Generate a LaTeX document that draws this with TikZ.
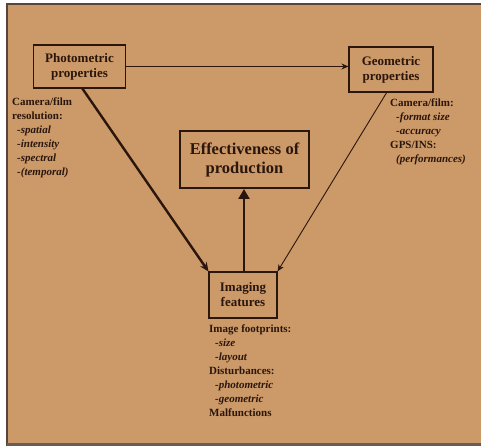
\documentclass[tikz,border=0pt]{standalone}
\usepackage{fontspec}
\setmainfont{Liberation Serif}
\usetikzlibrary{arrows.meta}
\definecolor{bgtan}{RGB}{204,153,104}
\definecolor{ink}{RGB}{42,22,12}
\tikzset{
  box/.style={draw=ink, line width=1.1pt, align=center, font=\bfseries\fontsize{13}{15}\selectfont, text=ink, inner sep=0pt},
  bigbox/.style={draw=ink, line width=2pt, align=center, font=\bfseries\fontsize{16.5}{19}\selectfont, text=ink, inner sep=0pt},
  note/.style={align=left, anchor=north west, font=\bfseries\fontsize{11}{14}\selectfont, text=ink, inner sep=0pt},
  thin/.style={draw=ink, line width=0.9pt, -{Stealth[length=7pt,width=6pt]}},
  thick/.style={draw=ink, line width=2.4pt, -{Stealth[length=9pt,width=8pt]}}
}
\begin{document}
\begin{tikzpicture}[x=1pt,y=-1pt]
\useasboundingbox (0,0) rectangle (481,446);
\fill[white] (0,0) rectangle (481,446);
\fill[bgtan] (7,4) rectangle (481,443);
\draw[ink!80, line width=1.2pt] (7,446) -- (7,4) -- (481,4);
\fill[ink!70] (7,443) rectangle (481,446);

\node[box, minimum width=92pt, minimum height=43pt] (photo) at (79.5,66.5) {Photometric\\properties};
\node[box, minimum width=84pt, minimum height=45pt] (geo) at (391,69.5) {Geometric\\properties};
\node[bigbox, minimum width=129pt, minimum height=57pt] (eff) at (244.5,159.5) {Effectiveness of\\production};
\node[box, minimum width=68pt, minimum height=46pt] (img) at (243,295) {Imaging\\features};

\coordinate (pb) at (82,88);
\coordinate (gb) at (387,92);
\coordinate (it) at (244,272);

\draw[thin] (photo.east) -- (photo.east -| geo.west);
\draw[thick] (pb) -- (img.north west);
\draw[thin] (gb) -- (img.north east);
\draw[thick, -{Triangle[length=10pt,width=11pt]}] (it) -- (eff.south -| it);

\node[note] (lnote) at (12,98) {Camera/film\\resolution:\\\hspace*{5pt}\itshape -spatial\\\hspace*{5pt}\itshape -intensity\\\hspace*{5pt}\itshape -spectral\\\hspace*{5pt}\itshape -(temporal)};
\node[note] (rnote) at (390,99) {Camera/film:\\\hspace*{6pt}\itshape -format size\\\hspace*{6pt}\itshape -accuracy\\GPS/INS:\\\hspace*{6pt}\itshape (performances)};
\node[note] (bnote) at (209,325) {Image footprints:\\\hspace*{6pt}\itshape -size\\\hspace*{6pt}\itshape -layout\\Disturbances:\\\hspace*{6pt}\itshape -photometric\\\hspace*{6pt}\itshape -geometric\\Malfunctions};
\end{tikzpicture}
\end{document}
